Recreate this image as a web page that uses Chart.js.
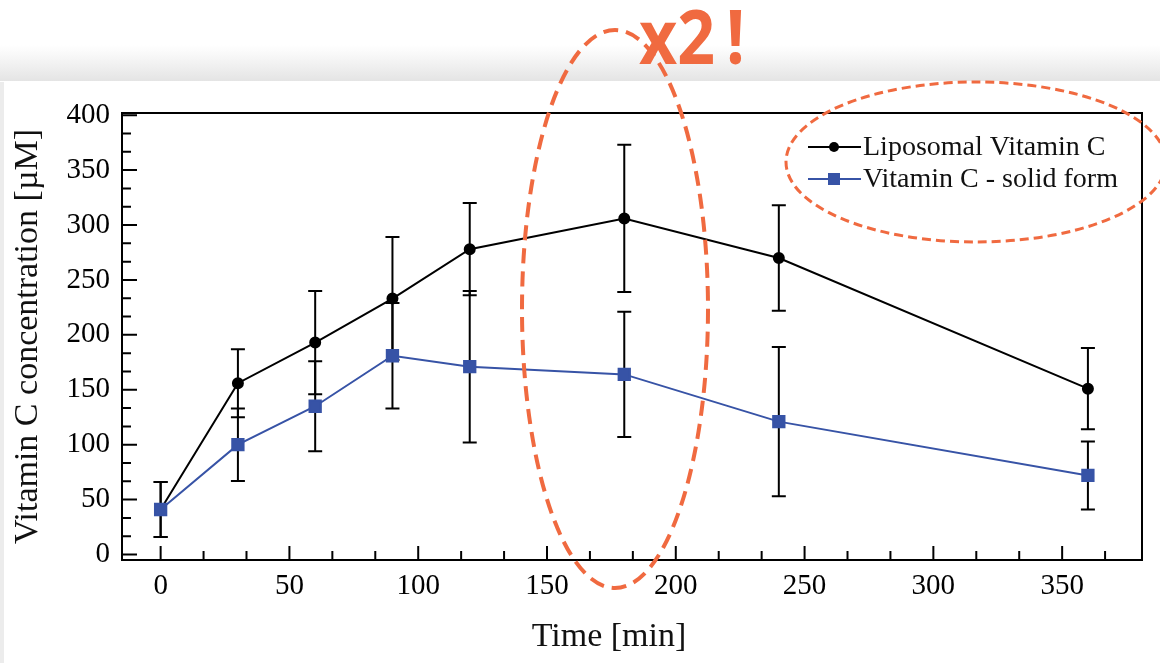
<!DOCTYPE html>
<html>
<head>
<meta charset="utf-8">
<title>Vitamin C concentration</title>
<script src="https://cdn.jsdelivr.net/npm/chart.js@4.4.1/dist/chart.umd.min.js"></script>
<style>
  html, body { margin: 0; padding: 0; background: #fff; }
  #wrap { width: 1160px; height: 663px; }
</style>
</head>
<body>
<div id="wrap"><canvas id="vitChart" width="1160" height="663"></canvas></div>
<script>
// data
const times = [0, 30, 60, 90, 120, 180, 240, 360];
const liposomal = [41, 156, 193, 233, 278, 306, 270, 151];
const liposomalErr = [25, 31, 47, 56, 42, 67, 48, 37];
const solidForm = [41, 100, 135, 181, 171, 164, 121, 72];
const solidFormErr = [25, 33, 41, 48, 69, 57, 68, 31];

const seriesNames = ["Liposomal Vitamin C", "Vitamin C - solid form"];
const xTicks = [0, 50, 100, 150, 200, 250, 300, 350];
const yTicks = [0, 50, 100, 150, 200, 250, 300, 350, 400];
const xTitle = "Time [min]";
const yTitle = "Vitamin C concentration [\u00b5M]";
const note = "x2!";

const serif = "'Liberation Serif', 'Times New Roman', serif";
const blue = "#3753a6";
const orange = "#f06a40";

function points(ys, errs) {
  return times.map((t, i) => ({ x: t, y: ys[i], err: errs[i] }));
}

// minor ticks: two between each pair of majors
function minorTicks(major, lo, hi) {
  const step = (major[1] - major[0]) / 3;
  const out = [];
  for (let v = major[0] - step * 3; v <= hi; v += step) {
    if (v >= lo && !major.some(m => Math.abs(m - v) < 1e-6)) out.push(v);
  }
  return out;
}

// page background: grey band on top, panel edge on the left
const backdrop = {
  id: "backdrop",
  beforeDraw(chart) {
    const c = chart.ctx;
    c.save();
    c.fillStyle = "#fff";
    c.fillRect(0, 0, chart.width, chart.height);
    const g = c.createLinearGradient(0, 45, 0, 81);
    g.addColorStop(0, "rgba(230,230,230,0)");
    g.addColorStop(1, "rgba(228,228,228,1)");
    c.fillStyle = g;
    c.fillRect(0, 45, chart.width, 36);
    c.fillStyle = "#ececec";
    c.fillRect(0, 82, 4, chart.height - 82);
    c.restore();
  }
};

// vertical error bars, drawn under the markers
const errorBars = {
  id: "errorBars",
  beforeDatasetsDraw(chart) {
    const c = chart.ctx;
    const xs = chart.scales.x, ys = chart.scales.y;
    c.save();
    c.strokeStyle = "#000";
    c.lineWidth = 2;
    chart.data.datasets.forEach(ds => {
      ds.data.forEach(p => {
        const px = xs.getPixelForValue(p.x);
        const top = ys.getPixelForValue(p.y + p.err);
        const bot = ys.getPixelForValue(p.y - p.err);
        c.beginPath();
        c.moveTo(px, top); c.lineTo(px, bot);
        c.moveTo(px - 7, top); c.lineTo(px + 7, top);
        c.moveTo(px - 7, bot); c.lineTo(px + 7, bot);
        c.stroke();
      });
    });
    c.restore();
  }
};

// box frame, inward tick marks, x title, legend, annotations
const decorations = {
  id: "decorations",
  afterDraw(chart) {
    const c = chart.ctx;
    const a = chart.chartArea;
    const xs = chart.scales.x, ys = chart.scales.y;
    c.save();

    c.strokeStyle = "#000";
    c.lineWidth = 2;
    c.strokeRect(a.left, a.top, a.right - a.left, a.bottom - a.top);

    c.beginPath();
    xTicks.forEach(v => { const p = xs.getPixelForValue(v); c.moveTo(p, a.bottom); c.lineTo(p, a.bottom - 14); });
    minorTicks(xTicks, xs.min, xs.max).forEach(v => { const p = xs.getPixelForValue(v); c.moveTo(p, a.bottom); c.lineTo(p, a.bottom - 9); });
    yTicks.forEach(v => { const p = ys.getPixelForValue(v); c.moveTo(a.left, p); c.lineTo(a.left + 15, p); });
    minorTicks(yTicks, ys.min, ys.max).forEach(v => { const p = ys.getPixelForValue(v); c.moveTo(a.left, p); c.lineTo(a.left + 9, p); });
    c.stroke();

    c.fillStyle = "#111";
    c.font = "34px " + serif;
    c.textAlign = "center";
    c.textBaseline = "alphabetic";
    c.fillText(xTitle, 609, 646);

    // legend
    c.font = "28px " + serif;
    c.textAlign = "left";
    c.textBaseline = "middle";
    chart.data.datasets.forEach((ds, i) => {
      const y = 147 + i * 32;
      c.strokeStyle = ds.borderColor;
      c.lineWidth = 2;
      c.beginPath(); c.moveTo(808, y); c.lineTo(861, y); c.stroke();
      c.fillStyle = ds.pointBackgroundColor;
      if (ds.pointStyle === "rect") c.fillRect(828, y - 6, 12, 12);
      else { c.beginPath(); c.arc(834, y, 5, 0, Math.PI * 2); c.fill(); }
      c.fillStyle = "#111";
      c.fillText(ds.label, 863, y + 1);
    });

    // orange markup on top of the figure
    c.strokeStyle = orange;
    c.lineWidth = 4;
    c.setLineDash([15, 8]);
    c.beginPath(); c.ellipse(615, 309, 93, 279, 0, 0, Math.PI * 2); c.stroke();
    c.lineWidth = 3;
    c.setLineDash([9, 5]);
    c.beginPath(); c.ellipse(976, 162, 190, 80, 0, 0, Math.PI * 2); c.stroke();
    c.setLineDash([]);

    c.fillStyle = orange;
    c.font = "bold 76px 'Open Sans', sans-serif";
    c.textAlign = "left";
    c.textBaseline = "alphabetic";
    c.translate(639, 64);
    c.scale(0.87, 1);
    c.fillText("x2", 0, 0);
    c.fillText(note.slice(2), 100, 0);
    c.restore();
  }
};

new Chart(document.getElementById("vitChart"), {
  type: "line",
  data: {
    datasets: [{
      label: seriesNames[0],
      data: points(liposomal, liposomalErr),
      order: 2,
      borderColor: "#000",
      backgroundColor: "#000",
      pointBackgroundColor: "#000",
      pointBorderColor: "#000",
      pointStyle: "circle",
      pointRadius: 5,
      borderWidth: 2,
      tension: 0
    }, {
      label: seriesNames[1],
      data: points(solidForm, solidFormErr),
      order: 1,
      borderColor: blue,
      backgroundColor: blue,
      pointBackgroundColor: blue,
      pointBorderColor: blue,
      pointStyle: "rect",
      pointRadius: 8,
      borderWidth: 2,
      tension: 0
    }]
  },
  options: {
    responsive: false,
    animation: false,
    layout: { padding: { left: 4, right: 18, top: 113, bottom: 0 } },
    plugins: { legend: { display: false }, tooltip: { enabled: false } },
    scales: {
      x: {
        type: "linear",
        min: -15,
        max: 381,
        afterBuildTicks: s => { s.ticks = xTicks.map(v => ({ value: v })); },
        afterFit: s => { s.height = 103; },
        grid: { display: false, drawTicks: false },
        border: { display: false },
        ticks: { color: "#000", padding: 9, font: { family: serif, size: 29 } }
      },
      y: {
        min: -5,
        max: 402,
        afterBuildTicks: s => { s.ticks = yTicks.map(v => ({ value: v })); },
        afterFit: s => { s.width = 118; },
        grid: { display: false, drawTicks: false },
        border: { display: false },
        ticks: { color: "#000", padding: 12, font: { family: serif, size: 29 } },
        title: { display: true, text: yTitle, color: "#111", padding: { top: 4, bottom: 0 }, font: { family: serif, size: 34 } }
      }
    }
  },
  plugins: [backdrop, errorBars, decorations]
});
</script>
</body>
</html>
